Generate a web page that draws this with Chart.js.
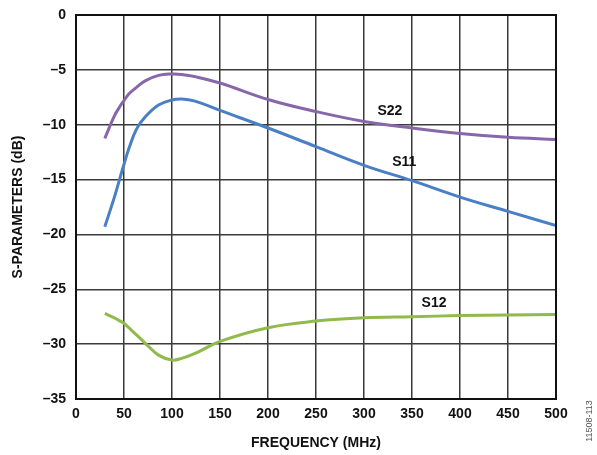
<!DOCTYPE html>
<html>
<head>
<meta charset="utf-8">
<script src="https://cdn.jsdelivr.net/npm/chart.js@4/dist/chart.umd.min.js"></script>
<style>
  html, body { margin: 0; padding: 0; background: #fff; }
  #box { position: relative; width: 597px; height: 455px; }
</style>
</head>
<body>
<div id="box"><canvas id="grafico"></canvas></div>
<script>
// frequencies (MHz)
const freqs = [30, 40, 46, 50, 55, 63, 72, 86, 100, 110, 124, 150, 200, 250, 300, 350, 400, 450, 500];
// S-parameters (dB)
const s11 = [-19.3, -16.6, -14.8, -13.6, -12.2, -10.4, -9.3, -8.2, -7.75, -7.65, -7.85, -8.7, -10.3, -12.0, -13.7, -15.1, -16.6, -17.9, -19.2];
const s22 = [-11.25, -9.2, -8.3, -7.8, -7.2, -6.6, -6.0, -5.5, -5.38, -5.42, -5.62, -6.2, -7.7, -8.8, -9.7, -10.3, -10.8, -11.15, -11.35];
const s12 = [-27.2, -27.6, -27.9, -28.1, -28.5, -29.15, -29.9, -31.0, -31.45, -31.3, -30.85, -29.75, -28.5, -27.9, -27.6, -27.5, -27.4, -27.35, -27.3];

// curve labels: text and position in data units
const rotulos = [
    { texto: 'S22', x: 327, y: -8.75 },
    { texto: 'S11', x: 342, y: -13.4 },
    { texto: 'S12', x: 373, y: -26.25 }
];

const fonte = { family: '"Liberation Sans", Arial, sans-serif', size: 14, weight: 'bold' };

function pontos(valores) {
    return freqs.map((f, i) => ({ x: f, y: valores[i] }));
}

function serie(nome, valores, cor) {
    return {
        label: nome,
        data: pontos(valores),
        borderColor: cor,
        borderWidth: 3,
        pointRadius: 0,
        fill: false,
        tension: 0.4
    };
}

const molduraPlugin = {
    id: 'moldura',
    afterDraw(chart) {
        const { ctx, chartArea: a, scales } = chart;
        ctx.save();
        ctx.strokeStyle = '#111';
        ctx.lineWidth = 2;
        ctx.strokeRect(a.left, a.top, a.right - a.left, a.bottom - a.top);

        // curve labels
        ctx.fillStyle = '#111';
        ctx.font = 'bold 14px "Liberation Sans", Arial, sans-serif';
        ctx.textAlign = 'center';
        ctx.textBaseline = 'middle';
        rotulos.forEach(r => {
            ctx.fillText(r.texto, scales.x.getPixelForValue(r.x), scales.y.getPixelForValue(r.y));
        });

        // figure code on the right edge
        ctx.translate(590, 421);
        ctx.rotate(-Math.PI / 2);
        ctx.fillStyle = '#555';
        ctx.font = '9px "Liberation Sans", Arial, sans-serif';
        ctx.fillText('11508-113', 0, 0);
        ctx.restore();
    }
};

new Chart(document.getElementById('grafico'), {
    type: 'line',
    data: {
        datasets: [
            serie('S22', s22, '#8767a9'),
            serie('S11', s11, '#4a80c3'),
            serie('S12', s12, '#90ba4c')
        ]
    },
    options: {
        responsive: true,
        maintainAspectRatio: false,
        animation: false,
        layout: { padding: { left: 0, right: 41, top: 15, bottom: 0 } },
        plugins: {
            legend: { display: false },
            tooltip: { enabled: false }
        },
        scales: {
            x: {
                type: 'linear',
                min: 0,
                max: 500,
                afterFit(scale) { scale.height = 56; },
                grid: { color: '#3a3a3a', lineWidth: 1.5, drawTicks: false },
                border: { display: false },
                ticks: { stepSize: 50, padding: 7, color: '#111', font: fonte, maxRotation: 0 },
                title: {
                    display: true,
                    text: 'FREQUENCY (MHz)',
                    color: '#111',
                    font: fonte,
                    padding: { top: 0, bottom: 3 }
                }
            },
            y: {
                min: -35,
                max: 0,
                afterFit(scale) {
                    scale.width = 76;
                    scale.paddingTop = 0;
                    scale.paddingBottom = 0;
                },
                grid: { color: '#3a3a3a', lineWidth: 1.5, drawTicks: false },
                border: { display: false },
                ticks: {
                    stepSize: 5,
                    padding: 10,
                    color: '#111',
                    font: fonte,
                    callback: v => v < 0 ? '\u2013' + Math.abs(v) : String(v)
                },
                title: {
                    display: true,
                    text: 'S-PARAMETERS (dB)',
                    color: '#111',
                    font: fonte,
                    padding: { top: 10, bottom: 0 }
                }
            }
        }
    },
    plugins: [molduraPlugin]
});
</script>
</body>
</html>
